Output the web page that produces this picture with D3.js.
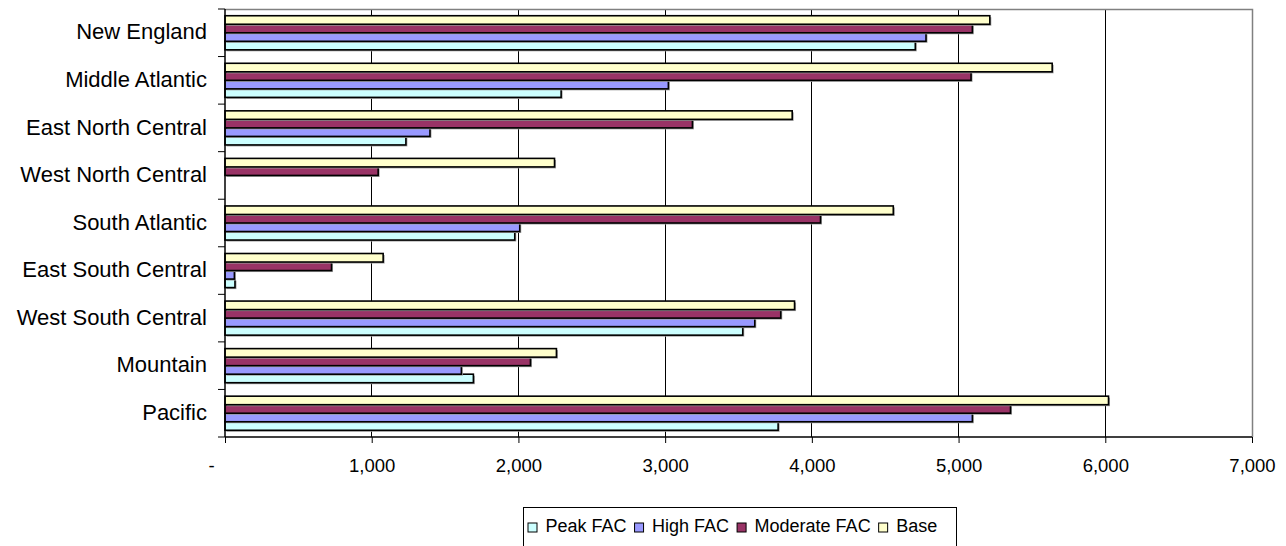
<!DOCTYPE html>
<html lang="en">
    <head>
        <meta charset="utf-8">
        <title>FAC by Census Division</title>
        <script type="text/javascript" src="https://cdn.jsdelivr.net/npm/d3@7/dist/d3.min.js"></script>
        <style>
            body { margin: 0; background: #fff; }
            text { font-family: "Liberation Sans", Arial, sans-serif; fill: #000; }
        </style>
    </head>
    <body>
    <svg width='1286' height='546'></svg>
        <script type="text/javascript">
            // regions, top to bottom
            var regions = ["New England", "Middle Atlantic", "East North Central", "West North Central",
                           "South Atlantic", "East South Central", "West South Central", "Mountain", "Pacific"];
            var peakFAC     = [4705, 2291, 1233,    0, 1975,   68, 3529, 1693, 3770];
            var highFAC     = [4778, 3022, 1397,    0, 2009,   64, 3611, 1611, 5094];
            var moderateFAC = [5094, 5085, 3186, 1044, 4059,  726, 3788, 2082, 5354];
            var base        = [5213, 5638, 3866, 2246, 4555, 1078, 3882, 2259, 6022];
            var xTicks = [0, 1000, 2000, 3000, 4000, 5000, 6000, 7000];

            var series = [
                {name: "Peak FAC", values: peakFAC, color: "#CCFFFF"},
                {name: "High FAC", values: highFAC, color: "#9999FF"},
                {name: "Moderate FAC", values: moderateFAC, color: "#993366"},
                {name: "Base", values: base, color: "#FFFFCC"}
            ];

            var svg = d3.select('svg'),
                marginLeft = 225, marginTop = 9,
                width = 1027, height = 428;

            var g = svg.append('g').attr('transform', "translate(" + marginLeft + "," + marginTop + ")");

            var xScale = d3.scaleLinear().domain([0, 7000]).range([0, width]);
            var yScale = d3.scaleBand().domain(regions).range([0, height]).padding(0);
            var bw = yScale.bandwidth();
            // within a band excel stacks the last series on top
            var inner = d3.scaleBand()
                .domain(series.map(function(s) { return s.name; }).reverse())
                .range([bw * 0.1415, bw * 0.8585]);

            // gridlines
            g.selectAll(".grid")
                .data(xTicks.slice(1, -1))
                .enter().append("line")
                .attr("x1", function(d) { return xScale(d); })
                .attr("x2", function(d) { return xScale(d); })
                .attr("y1", 0)
                .attr("y2", height)
                .attr("stroke", "#000")
                .attr("stroke-width", 1)
                .attr("shape-rendering", "crispEdges");

            // plot border (top, right)
            g.append("path")
                .attr("d", "M0,0.5H" + (width + 0.5) + "V" + height)
                .attr("fill", "none")
                .attr("stroke", "#808080")
                .attr("stroke-width", 1.5);

            // bars
            series.forEach(function(s) {
                g.selectAll(".shadow-" + s.name.replace(/ /g, ""))
                    .data(s.values)
                    .enter().append("rect")
                    .attr("x", 1.5)
                    .attr("y", function(d, i) { return yScale(regions[i]) + inner(s.name) + 1.5; })
                    .attr("width", function(d) { return d > 0 ? xScale(d) : 0; })
                    .attr("height", inner.bandwidth())
                    .attr("fill", "#a0a0a0");
                g.selectAll(".bar-" + s.name.replace(/ /g, ""))
                    .data(s.values)
                    .enter().append("rect")
                    .attr("x", 0)
                    .attr("y", function(d, i) { return yScale(regions[i]) + inner(s.name); })
                    .attr("width", function(d) { return xScale(d); })
                    .attr("height", inner.bandwidth())
                    .attr("fill", s.color)
                    .attr("stroke", "#000")
                    .attr("stroke-width", function(d) { return d > 0 ? 1.6 : 0; });
            });

            // x axis
            var xAxis = g.append("g")
                .attr("transform", "translate(0," + height + ")")
                .call(d3.axisBottom(xScale).tickValues(xTicks).tickSize(6).tickPadding(16)
                    .tickFormat(function(d) { return d === 0 ? "-" : d3.format(",")(d); }));
            xAxis.select(".domain").attr("stroke", "#000").attr("stroke-width", 1.5).attr("d", "M0,0H" + width);
            xAxis.selectAll(".tick line").attr("stroke", "#000");
            xAxis.selectAll("text").attr("font-size", "18.5px").attr("font-family", "Liberation Sans, Arial, sans-serif");
            xAxis.selectAll(".tick").filter(function(d) { return d === 0; }).select("text").attr("dx", "-14");

            // y axis, ticks on band edges
            var yEdges = regions.map(function(r) { return yScale(r); }).concat([height]);
            g.append("line")
                .attr("x1", 0).attr("x2", 0).attr("y1", 0).attr("y2", height)
                .attr("stroke", "#000").attr("stroke-width", 1.5);
            g.selectAll(".ytick")
                .data(yEdges)
                .enter().append("line")
                .attr("x1", -7).attr("x2", 0)
                .attr("y1", function(d) { return d; })
                .attr("y2", function(d) { return d; })
                .attr("stroke", "#000");
            g.selectAll(".ylabel")
                .data(regions)
                .enter().append("text")
                .attr("x", -18)
                .attr("y", function(d) { return yScale(d) + bw / 2 - 1; })
                .attr("dy", "0.35em")
                .attr("text-anchor", "end")
                .attr("font-size", "22px")
                .text(function(d) { return d; });

            // legend
            var legend = svg.append("g");
            legend.append("rect")
                .attr("x", 523.5).attr("y", 507.5)
                .attr("width", 433).attr("height", 60)
                .attr("fill", "#fff").attr("stroke", "#000").attr("stroke-width", 1);
            var lx = 528;
            series.forEach(function(s) {
                legend.append("rect")
                    .attr("x", lx).attr("y", 523)
                    .attr("width", 9).attr("height", 9)
                    .attr("fill", s.color).attr("stroke", "#000").attr("stroke-width", 1);
                var t = legend.append("text")
                    .attr("x", lx + 17.5).attr("y", 526)
                    .attr("dy", "0.35em")
                    .attr("font-size", "18px")
                    .text(s.name);
                lx = lx + 17.5 + t.node().getComputedTextLength() + 8;
            });
        </script>
    </body>
</html>
